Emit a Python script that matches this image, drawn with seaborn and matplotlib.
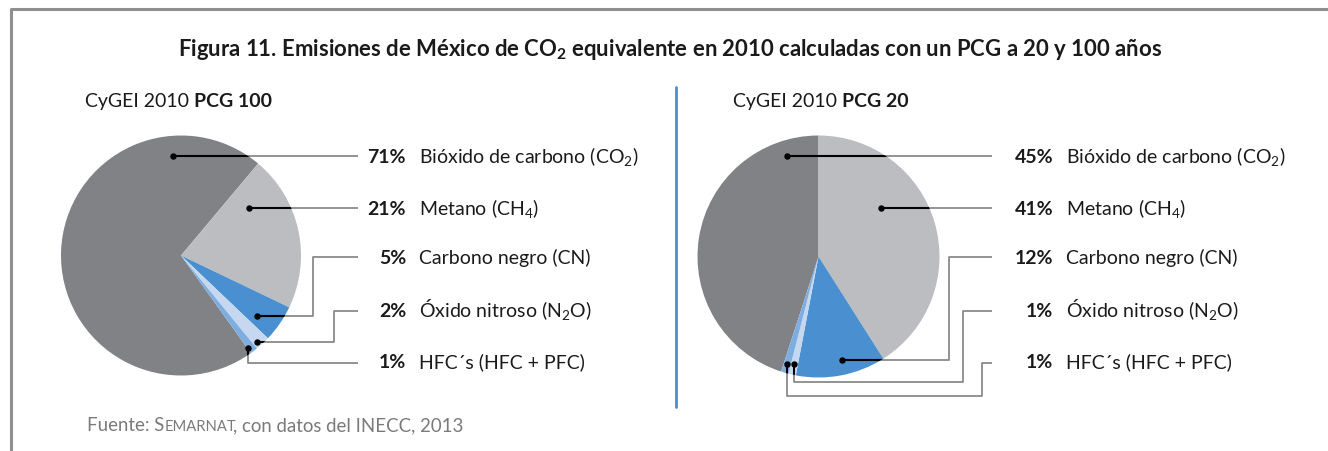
import numpy as np
import matplotlib.pyplot as plt
import matplotlib.patches as mpatches
import seaborn as sns

# --- datos ---
gases = ['Bióxido de carbono (CO$_2$)', 'Metano (CH$_4$)', 'Carbono negro (CN)',
         'Óxido nitroso (N$_2$O)', 'HFC´s (HFC + PFC)']
pcg100 = [71, 21, 5, 2, 1]
pcg20 = [45, 41, 12, 1, 1]
subtitulos = ['PCG 100', 'PCG 20']
colores = ['#818286', '#bcbdc0', '#4a8fcf', '#c5d8ef', '#7eaee0']

sns.set_theme(style="white")
plt.rcParams['font.family'] = ['Lato', 'DejaVu Sans']
plt.rcParams['mathtext.default'] = 'regular'

W, H = 1328, 452
fig = plt.figure(figsize=(W / 100, H / 100), dpi=100)
ax = fig.add_axes([0, 0, 1, 1])


def Y(py):
    # pixeles desde arriba -> coordenada de datos
    return H - py


# diseño de cada panel (en pixeles)
paneles = [
    dict(valores=pcg100, centro=(181, 256.5), radio=120, frontera=50,
         sub_x=85, pct_x=406, nom_x=419,
         guias=[[(173, 157), (358, 157)],
                [(249, 209), (358, 209)],
                [(257, 317), (313, 317), (313, 258), (358, 258)],
                [(257, 343), (334, 343), (334, 312), (358, 312)],
                [(248, 349), (248, 364), (358, 364)]]),
    dict(valores=pcg20, centro=(818.5, 257.5), radio=121, frontera=90,
         sub_x=733, pct_x=1053, nom_x=1066,
         guias=[[(787, 157), (992, 157)],
                [(881, 209), (992, 209)],
                [(842, 361), (949, 361), (949, 258), (992, 258)],
                [(794, 365), (794, 383), (963, 383), (963, 312), (992, 312)],
                [(787, 365), (787, 397), (982, 397), (982, 364), (992, 364)]]),
]
filas = [157, 209, 258, 311, 362]

for p, sub in zip(paneles, subtitulos):
    vals = p['valores']
    cx, cy = p['centro'][0], Y(p['centro'][1])
    inicio = p['frontera'] + vals[0] * 3.6
    ax.pie(vals, colors=colores, startangle=inicio, counterclock=False,
           center=(cx, cy), radius=p['radio'],
           wedgeprops=dict(linewidth=0))

    circulo = mpatches.Circle((cx, cy), p['radio'])
    circulo.set_transform(ax.transData)
    for guia in p['guias']:
        xs = [q[0] for q in guia]
        ys = [Y(q[1]) for q in guia]
        ax.plot(xs, ys, color='#8a8a8a', lw=1.3, solid_capstyle='butt')
        l, = ax.plot(xs, ys, color='black', lw=1.5, solid_capstyle='butt')
        l.set_clip_path(circulo)
        ax.plot(xs[0], ys[0], 'o', ms=3.6, color='black')

    for fila, v, nombre in zip(filas, vals, gases):
        ax.text(p['pct_x'], Y(fila + 6), f'{v}%', ha='right', va='baseline',
                fontsize=14, weight='bold', color='#1a1a1a')
        ax.text(p['nom_x'], Y(fila + 6), nombre, ha='left', va='baseline',
                fontsize=14, color='#1a1a1a')

    t1 = ax.text(p['sub_x'], Y(107), 'CyGEI 2010', ha='left', va='baseline',
                 fontsize=14, color='#1a1a1a')
    ax.annotate(sub, xy=(1, 0), xycoords=t1, xytext=(3.5, 0),
                textcoords='offset points', ha='left', va='bottom',
                fontsize=14, weight='bold', color='#1a1a1a')

# titulo
ax.text(670, Y(56), 'Figura 11. Emisiones de México de CO$_2$ equivalente en 2010 '
        'calculadas con un PCG a 20 y 100 años', ha='center', va='baseline',
        fontsize=15.9, weight='bold', color='#1a1a1a')

# fuente con versalitas
gris = '#7a7a7a'
f1 = ax.text(87, Y(431), 'Fuente: S', ha='left', va='baseline', fontsize=13.4, color=gris)
f2 = ax.annotate('EMARNAT', xy=(1, 0), xycoords=f1, ha='left', va='bottom',
                 fontsize=10.6, color=gris)
ax.annotate(', con datos del INECC, 2013', xy=(1, 0), xycoords=f2, xytext=(-2, 0),
            textcoords='offset points', ha='left', va='bottom',
            fontsize=13.4, color=gris)

# separador y marco
ax.plot([676, 676], [Y(88), Y(408)], color='#4a8fcf', lw=2)
ax.plot([11, 11, W], [0, Y(10), Y(10)], color='#8f8f8f', lw=2.2)

ax.set_xlim(0, W)
ax.set_ylim(0, H)
ax.set_aspect('auto')
ax.axis('off')

fig.savefig('out.png', dpi=100)
